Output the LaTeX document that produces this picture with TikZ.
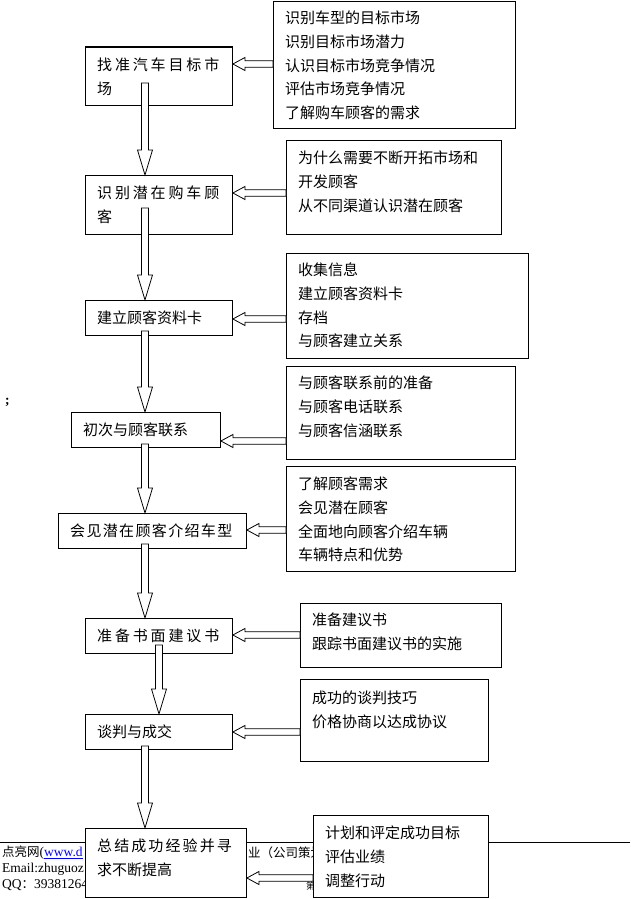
\documentclass[tikz,border=0pt]{standalone}
\usepackage{fontspec}
\setmainfont{Liberation Serif}
\newfontfamily\cjk{Noto Sans CJK SC}
\usetikzlibrary{calc}
\tikzset{
  box/.style={draw, fill=white, line width=0.9pt, inner sep=0pt, anchor=north west},
  txt/.style={anchor=north west, align=left, inner sep=0pt,
    font=\cjk\fontsize{15}{23.6}\selectfont},
  foot/.style={anchor=west, inner sep=0pt, font=\fontsize{13.5}{15}\selectfont},
  hollow/.style n args={3}{to path={
    ($(\tikztostart)!#1!90:(\tikztotarget)$)
    -- ($($(\tikztotarget)!#2!(\tikztostart)$)!#1!90:(\tikztotarget)$)
    -- ($($(\tikztotarget)!#2!(\tikztostart)$)!#3!90:(\tikztotarget)$)
    -- (\tikztotarget)
    -- ($($(\tikztotarget)!#2!(\tikztostart)$)!#3!-90:(\tikztotarget)$)
    -- ($($(\tikztotarget)!#2!(\tikztostart)$)!#1!-90:(\tikztotarget)$)
    -- ($(\tikztostart)!#1!-90:(\tikztotarget)$)
    -- cycle}},
  flow/.style={draw, fill=white, line width=0.8pt, hollow={3.5pt}{25pt}{7.5pt}},
  feed/.style={draw, fill=white, line width=0.8pt, hollow={3.2pt}{12pt}{6.5pt}}
}
\newcommand{\wide}[2]{{\addfontfeature{LetterSpace=#1}#2}}
\begin{document}
\begin{tikzpicture}[x=1pt,y=-1pt]
\useasboundingbox (0,0) rectangle (630,899);

% footer of the page
\draw[line width=0.6pt] (0,842) -- (630,842);
\node[foot] (f1) at (2,853) {{\cjk\fontsize{12.5}{15}\selectfont 点亮网}(\textcolor{blue}{\underline{www.d}}};
\node[foot] (f2) at (2,869) {Email:zhuguoz};
\node[foot] (f3) at (2,885) {QQ{\cjk\fontsize{12.5}{15}\selectfont ：}39381264};
\node[foot] (f4) at (248,853) {\cjk\fontsize{12.5}{15}\selectfont 业（公司策划};
\node[foot] (f5) at (306,886) {\cjk\fontsize{9}{10}\selectfont 第};
\node[foot] (semi) at (5,402) {\textbf{;}};

% steps
\node[box,minimum width=147,minimum height=58] (1) at (85,47) {};
\node[box,minimum width=147,minimum height=59] (2) at (85,175) {};
\node[box,minimum width=147,minimum height=35] (3) at (85,300) {};
\node[box,minimum width=149,minimum height=35] (4) at (71,412) {};
\node[box,minimum width=188,minimum height=35] (5) at (58,513) {};
\node[box,minimum width=147,minimum height=35] (6) at (85,618) {};
\node[box,minimum width=147,minimum height=35] (7) at (85,714) {};
\node[box,minimum width=161,minimum height=69] (8) at (85,828) {};
\draw[line width=2pt] (1.north west) -- (1.north east);

\node[txt] (t1) at ($(1.north west)+(12,11)$) {\wide{19}{找准汽车目标市}\\场};
\node[txt] (t2) at ($(2.north west)+(12,11)$) {\wide{19}{识别潜在购车顾}\\客};
\node[txt] (t3) at ($(3.north west)+(12,11)$) {建立顾客资料卡};
\node[txt] (t4) at ($(4.north west)+(12,11)$) {初次与顾客联系};
\node[txt] (t5) at ($(5.north west)+(12,11)$) {\wide{9}{会见潜在顾客介绍车型}};
\node[txt] (t6) at ($(6.north west)+(12,11)$) {\wide{19}{准备书面建议书}};
\node[txt] (t7) at ($(7.north west)+(12,11)$) {谈判与成交};
\node[txt] (t8) at ($(8.north west)+(12,11)$) {\wide{14}{总结成功经验并寻}\\求不断提高};

% what each step means
\node[box,minimum width=242,minimum height=127] (9) at (273,1) {};
\node[box,minimum width=215,minimum height=94] (10) at (286,140) {};
\node[box,minimum width=242,minimum height=105] (11) at (286,253) {};
\node[box,minimum width=229,minimum height=93] (12) at (286,366) {};
\node[box,minimum width=229,minimum height=105] (13) at (286,466) {};
\node[box,minimum width=201,minimum height=64] (14) at (300,603) {};
\node[box,minimum width=188,minimum height=82] (15) at (300,679) {};
\node[box,minimum width=175,minimum height=82] (16) at (313,815) {};

\node[txt] (t9) at ($(9.north west)+(12,10)$) {识别车型的目标市场\\识别目标市场潜力\\认识目标市场竞争情况\\评估市场竞争情况\\了解购车顾客的需求};
\node[txt] (t10) at ($(10.north west)+(12,11)$) {为什么需要不断开拓市场和\\开发顾客\\从不同渠道认识潜在顾客};
\node[txt] (t11) at ($(11.north west)+(12,10)$) {收集信息\\建立顾客资料卡\\存档\\与顾客建立关系};
\node[txt] (t12) at ($(12.north west)+(12,10)$) {与顾客联系前的准备\\与顾客电话联系\\与顾客信涵联系};
\node[txt] (t13) at ($(13.north west)+(12,11)$) {了解顾客需求\\会见潜在顾客\\全面地向顾客介绍车辆\\车辆特点和优势};
\node[txt] (t14) at ($(14.north west)+(12,10)$) {准备建议书\\跟踪书面建议书的实施};
\node[txt] (t15) at ($(15.north west)+(12,12)$) {成功的谈判技巧\\价格协商以达成协议};
\node[txt] (t16) at ($(16.north west)+(12,11)$) {计划和评定成功目标\\评估业绩\\调整行动};

% down the steps
\path ($(1.south -| 145,0)+(0,-23)$) edge[flow] (2.north -| 145,0);
\path ($(2.south -| 145,0)+(0,-27)$) edge[flow] (3.north -| 145,0);
\path ($(3.south -| 145,0)+(0,-5)$) edge[flow] (4.north -| 145,0);
\path ($(4.south -| 145,0)+(0,-4)$) edge[flow] (5.north -| 145,0);
\path ($(5.south -| 145,0)+(0,-5)$) edge[flow] (6.north -| 145,0);
\path ($(6.south -| 159,0)+(0,-9)$) edge[flow] (7.north -| 159,0);
\path ($(7.south -| 145,0)+(0,-4)$) edge[flow] (8.north -| 145,0);

% into the steps
\path (9.west |- 0,64) edge[feed] (1.east |- 0,64);
\path (10.west |- 0,193) edge[feed] (2.east |- 0,193);
\path (11.west |- 0,319) edge[feed] (3.east |- 0,319);
\path (12.west |- 0,441) edge[feed] (4.east |- 0,441);
\path (13.west |- 0,530) edge[feed] (5.east |- 0,530);
\path (14.west |- 0,635) edge[feed] (6.east |- 0,635);
\path (15.west |- 0,732) edge[feed] (7.east |- 0,732);
\path (16.west |- 0,878) edge[feed] (8.east |- 0,878);
\end{tikzpicture}
\end{document}
